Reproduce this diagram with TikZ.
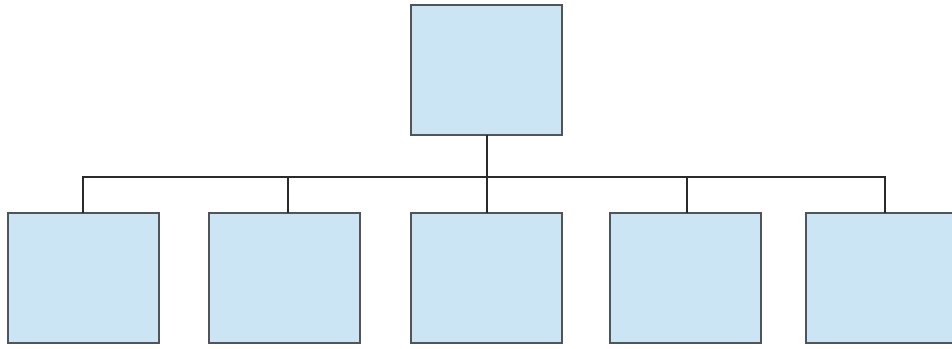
\documentclass[tikz,border=0pt]{standalone}
\begin{document}
\begin{tikzpicture}[x=1pt,y=-1pt,
  box/.style={draw=boxline,fill=boxfill,line width=1.8pt,minimum width=151pt,minimum height=130pt,inner sep=0pt,outer sep=0pt,anchor=north west},
  conn/.style={draw=connline,line width=1.8pt}]
\definecolor{boxfill}{HTML}{CCE5F4}
\definecolor{boxline}{HTML}{4F5558}
\definecolor{connline}{HTML}{2A2A2A}
\useasboundingbox (0,0) rectangle (952,348);
\node[box] (top) at (411,5) {};
\node[box] (b1) at (8,213) {};
\node[box] (b2) at (209,213) {};
\node[box] (b3) at (411,213) {};
\node[box] (b4) at (610,213) {};
\node[box,minimum width=160pt] (b5) at (806,213) {};
\coordinate (j) at (487,177);
\coordinate (l) at (83,177);
\coordinate (r) at (885,177);
\draw[conn] (top.south -| j) -- (b3.north -| j);
\draw[conn] (b1.north -| l) -- (l) -- (r) -- (b5.north -| r);
\draw[conn] (b2.north -| 288,0) -- (288,177);
\draw[conn] (b4.north -| 687,0) -- (687,177);
\end{tikzpicture}
\end{document}
